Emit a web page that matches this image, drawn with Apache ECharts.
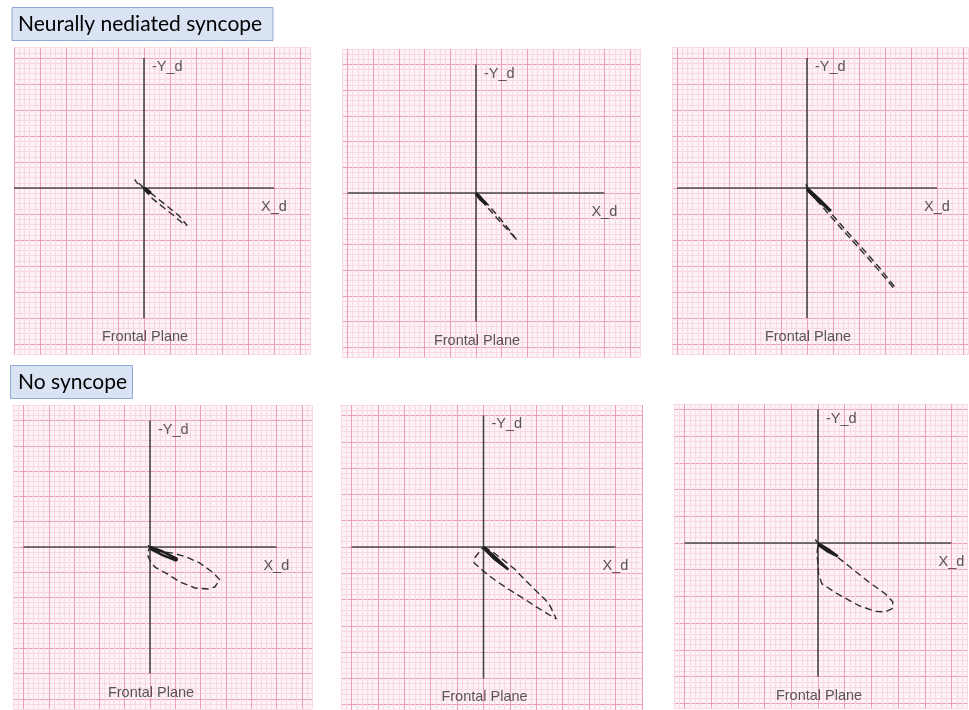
<!DOCTYPE html>
<html>
<head>
<meta charset="utf-8">
<script src="https://cdn.jsdelivr.net/npm/echarts@6/dist/echarts.min.js"></script>
<style>
html, body { margin: 0; padding: 0; background: #fff; }
#main { width: 969px; height: 710px; }
</style>
</head>
<body>
<div id="main"></div>
<script>
// frontal plane VCG loops, units = mm (one small square), y grows downwards (Y_d)
var crossSpan = 25;
var axisTexts = ['-Y_d', 'X_d', 'Frontal Plane'];
var groupTitles = ['Neurally nediated syncope', 'No syncope'];

// neurally mediated syncope
var qrsNms1 = [[0,0],[-1.8,-1.6],[-1.2,-0.8],[0.6,0.4],[2.6,2.0],[4.6,3.6],[6.6,5.2],[8.3,7.2],[7.7,7.0],[5.7,5.3],[3.7,3.7],[1.7,2.1],[0.2,0.5],[0,0]];
var tNms1 = [[0,0],[0.7,0.4],[1.3,0.9],[0.9,0.9],[0.2,0.3],[0,0]];
var qrsNms2 = [[0,0],[-0.2,-0.3],[0.4,0.2],[2,1.9],[4.3,4.5],[6.2,6.8],[8,9.2],[7.7,9.1],[5.9,6.9],[4,4.8],[1.9,2.4],[0.2,0.4],[0,0]];
var tNms2 = [[0,0],[1,1],[2.1,2.3],[1.8,2.4],[0.8,1.2],[0,0.2]];
var qrsNms3 = [[0,0],[-0.2,-0.7],[0.5,0.3],[2.5,2.6],[5,5.3],[8,8.7],[11,12.0],[14,15.4],[17,19.2],[16.6,19.2],[13.6,15.6],[10.6,12.2],[7.6,8.9],[4.6,5.5],[1.8,2.3],[0,0.3],[0,0]];
var tNms3 = [[0,0],[2.3,2.1],[4.6,4.4],[4.4,4.6],[2.1,2.4],[0,0.3]];

// no syncope
var qrsNo1 = [[0,0],[-0.4,-0.3],[0.6,0.3],[2.5,0.9],[4.5,1.2],[7.3,2.0],[9.9,3.2],[12.5,5.1],[13.8,6.5],[12.8,7.9],[11.5,8.3],[8.9,8.1],[5.9,6.9],[3.4,5.3],[1,4],[0.2,3],[-0.4,1.8],[-0.3,0.6],[0,0]];
var tNo1 = [[0,0],[2.5,0.9],[5.3,2.3],[5.2,2.7],[2.5,1.6],[0,0.3]];
var qrsNo2 = [[0,0],[1.5,0.8],[3.8,2.5],[6,4.3],[7.9,6.3],[9.8,8.2],[11.6,9.9],[12.6,11.2],[13.8,13.7],[13.1,13.3],[10,11.4],[7.6,9.8],[4.7,8],[2.3,6.4],[0.1,4.7],[-1.8,3],[-1.7,2.1],[-0.9,1.1],[0,0]];
var tNo2 = [[0,0],[2.4,2.1],[4.7,4.3],[4.5,4.5],[2.2,2.4],[0,0.2]];
var qrsNo3 = [[0,0],[-0.5,-0.6],[0.4,0.3],[3.6,2.6],[6,4.5],[9.5,7.3],[12.6,9.5],[14,11],[13.9,12.3],[12.6,12.9],[10.7,12.8],[7.6,11.7],[3.6,9.5],[0.7,7.6],[0.1,5.7],[0,3.9],[-0.2,2],[0,0.4],[0,0]];
var tNo3 = [[0,0],[1.9,1.2],[3.7,2.5],[3.5,2.8],[1.7,1.5],[0,0.3]];

// where each panel sits: origin in px, px per mm, axis range in mm
var panels = [
  { ox: 144, oy: 188, mm: 5.2,  x: [-25, 32], y: [-27, 32], qrs: qrsNms1, t: tNms1 },
  { ox: 476, oy: 193, mm: 5.14, x: [-26, 32], y: [-28, 32], qrs: qrsNms2, t: tNms2 },
  { ox: 807, oy: 188, mm: 5.2,  x: [-26, 31], y: [-27, 32], qrs: qrsNms3, t: tNms3 },
  { ox: 150, oy: 547, mm: 5.06, x: [-27, 32], y: [-28, 32], qrs: qrsNo1, t: tNo1 },
  { ox: 483.5, oy: 547.5, mm: 5.28, x: [-27, 30], y: [-27, 31], qrs: qrsNo2, t: tNo2 },
  { ox: 818, oy: 543, mm: 5.34, x: [-27, 28], y: [-26, 31], qrs: qrsNo3, t: tNo3 }
];

var majorColor = '#efa0b4';
var minorColor = '#f8d8e2';

// split lines every mm, every 5th one darker (counted from min)
function gridColors(min) {
  var arr = [];
  for (var i = 0; i < 5; i++) {
    arr.push(((min + i) % 5 + 5) % 5 === 0 ? majorColor : minorColor);
  }
  return arr;
}

function paperAxis(i, range, inverse) {
  return {
    gridIndex: i,
    type: 'value',
    min: range[0],
    max: range[1],
    interval: 1,
    inverse: inverse,
    axisLine: { show: false },
    axisTick: { show: false },
    axisLabel: { show: false },
    splitLine: { show: true, lineStyle: { color: gridColors(range[0]), width: 1 } }
  };
}

var grids = [], xAxes = [], yAxes = [], series = [];
var labelFont = { color: '#2f2f2f', fontSize: 14.5, fontFamily: 'Liberation Sans, Arial, sans-serif' };

panels.forEach(function (p, i) {
  grids.push({
    left: p.ox + p.x[0] * p.mm,
    top: p.oy + p.y[0] * p.mm,
    width: (p.x[1] - p.x[0]) * p.mm,
    height: (p.y[1] - p.y[0]) * p.mm,
    show: true,
    backgroundColor: '#fdf2f6',
    borderWidth: 0
  });
  xAxes.push(paperAxis(i, p.x, false));
  yAxes.push(paperAxis(i, p.y, true));

  var axisLine = { color: '#484848', width: 1.6 };
  series.push({
    type: 'line', xAxisIndex: i, yAxisIndex: i, symbol: 'none', silent: true,
    data: [[-crossSpan, 0], [crossSpan, 0]], lineStyle: axisLine
  });
  series.push({
    type: 'line', xAxisIndex: i, yAxisIndex: i, symbol: 'none', silent: true,
    data: [[0, -crossSpan], [0, crossSpan]], lineStyle: axisLine
  });
  // QRS loop, dashed
  series.push({
    type: 'line', xAxisIndex: i, yAxisIndex: i, symbol: 'none', silent: true,
    data: p.qrs, lineStyle: { color: '#2e2e2e', width: 1.4, type: [7, 4] }
  });
  // T loop, solid
  series.push({
    type: 'line', xAxisIndex: i, yAxisIndex: i, symbol: 'none', silent: true,
    data: p.t, lineStyle: { color: '#1e1e1e', width: 2.6 }
  });
  // axis names
  series.push({
    type: 'scatter', xAxisIndex: i, yAxisIndex: i, symbolSize: 1, silent: true,
    itemStyle: { color: 'transparent' },
    label: Object.assign({ show: true, position: 'inside' }, labelFont),
    data: [
      { value: [0, -crossSpan], label: { formatter: axisTexts[0], align: 'left', offset: [8, 9] } },
      { value: [crossSpan, 0], label: { formatter: axisTexts[1], offset: [0, 19] } },
      { value: [0, crossSpan], label: { formatter: axisTexts[2], offset: [1, 19] } }
    ]
  });
});

var myChart = echarts.init(document.getElementById('main'));
myChart.setOption({
  animation: false,
  backgroundColor: '#fff',
  grid: grids,
  xAxis: xAxes,
  yAxis: yAxes,
  series: series,
  graphic: [
    { type: 'rect', shape: { x: 12, y: 7.5, width: 261, height: 33 },
      style: { fill: '#dae3f3', stroke: '#8fa9d6', lineWidth: 1 } },
    { type: 'text', x: 18, y: 24,
      style: { text: groupTitles[0], font: '21px Lato, sans-serif', fill: '#000', verticalAlign: 'middle' } },
    { type: 'rect', shape: { x: 10.5, y: 365.5, width: 122, height: 33 },
      style: { fill: '#dae3f3', stroke: '#8fa9d6', lineWidth: 1 } },
    { type: 'text', x: 18, y: 382,
      style: { text: groupTitles[1], font: '21px Lato, sans-serif', fill: '#000', verticalAlign: 'middle' } }
  ]
});
</script>
</body>
</html>
